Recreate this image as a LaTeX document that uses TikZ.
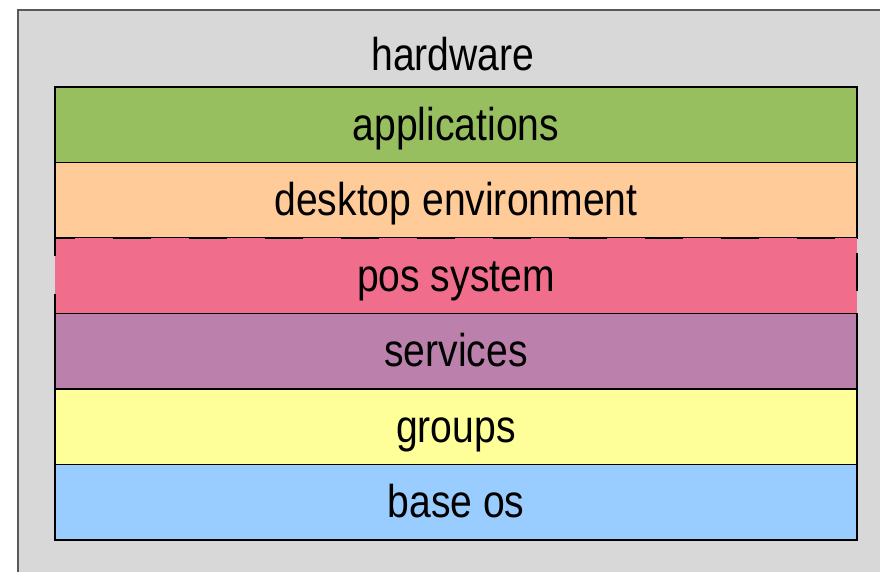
\documentclass[tikz,border=0pt]{standalone}
\usepackage{fontspec}
\setmainfont{Liberation Sans}[FakeStretch=0.85]
\usetikzlibrary{positioning}

\definecolor{hwgray}{HTML}{D8D8D8}
\definecolor{appgreen}{HTML}{97BF60}
\definecolor{deskorange}{HTML}{FFCC99}
\definecolor{pospink}{HTML}{F06E8C}
\definecolor{svcpurple}{HTML}{BB80AB}
\definecolor{grpyellow}{HTML}{FFFF99}
\definecolor{osblue}{HTML}{99CCFF}

\tikzset{
  layer/.style={draw=black, line width=0.75pt, minimum width=401pt,
    minimum height=37.75pt, inner sep=0pt, outer sep=0pt,
    font=\fontsize{23}{27}\selectfont, text height=18pt, text depth=2.5pt}
}

\begin{document}
\begin{tikzpicture}[x=0.5pt,y=-0.5pt]
  \useasboundingbox (0,0) rectangle (880,572);
  \clip (0,0) rectangle (880,572);
  % hardware frame
  \draw[draw=black!65, line width=1pt, fill=hwgray] (18,10) rectangle (900,600);
  \node[font=\fontsize{23}{27}\selectfont, anchor=base, inner sep=0pt] (hardware) at (453,71) {hardware};

  % layers, top to bottom
  \node[layer, fill=appgreen, anchor=north west] (apps) at (55,87) {applications};
  \node[layer, fill=deskorange, below=0pt of apps] (desktop) {desktop environment};
  \node[layer, fill=pospink, dash pattern=on 19pt off 19pt, dash phase=6pt, below=0pt of desktop] (pos) {pos system};
  \node[layer, fill=svcpurple, below=0pt of pos] (services) {services};
  \node[layer, fill=grpyellow, below=0pt of services] (groups) {groups};
  \node[layer, fill=osblue, below=0pt of groups] (baseos) {base os};
\end{tikzpicture}
\end{document}
